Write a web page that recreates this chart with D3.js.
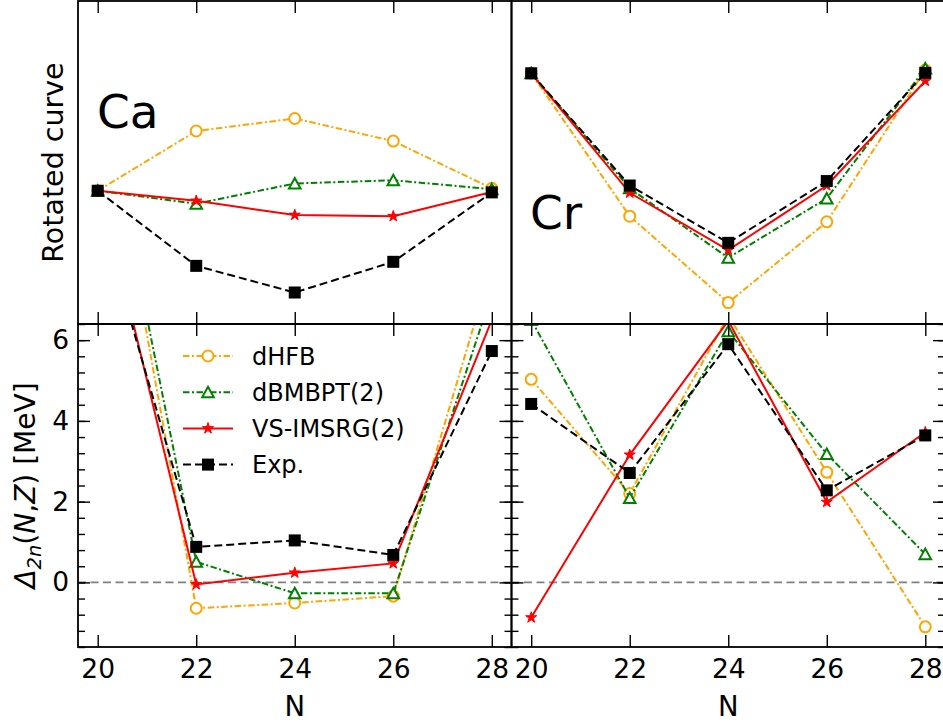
<!DOCTYPE html>
<html>
<head>
<meta charset="utf-8">
<script src="https://cdn.jsdelivr.net/npm/d3@7"></script>
<style>
    html, body { margin: 0; padding: 0; background: #fff; }
    svg { display: block; font-family: "DejaVu Sans", sans-serif; }
</style>
</head>
<body>
<div id="chart"></div>
<script>
// ===========================================
// DATA
// ===========================================
const neutrons = [20, 22, 24, 26, 28];
const xTicks = [20, 22, 24, 26, 28];
const yTicks = [0, 2, 4, 6];
const seriesNames = ["dHFB", "dBMBPT(2)", "VS-IMSRG(2)", "Exp."];

// rotated curves (no scale shown, arbitrary units)
const caRotHFB    = [3.30, 4.78, 5.09, 4.53, 3.36];
const caRotBMBPT  = [3.30, 2.98, 3.48, 3.56, 3.34];
const caRotIMSRG  = [3.30, 3.05, 2.70, 2.67, 3.27];
const caRotExp    = [3.30, 1.44, 0.78, 1.54, 3.26];

const crRotHFB    = [6.21, 2.67, 0.53, 2.53, 6.29];
const crRotBMBPT  = [6.21, 3.36, 1.64, 3.11, 6.33];
const crRotIMSRG  = [6.21, 3.25, 1.83, 3.43, 6.02];
const crRotExp    = [6.21, 3.43, 2.01, 3.54, 6.22];

// Delta_2n in MeV
const caGapHFB    = [12.9, -0.64, -0.51, -0.34, 7.85];
const caGapBMBPT  = [12.6, 0.51, -0.27, -0.27, 7.15];
const caGapIMSRG  = [10.07, -0.05, 0.24, 0.47, 6.5];
const caGapExp    = [9.3, 0.88, 1.04, 0.68, 5.73];

const crGapHFB    = [5.03, 2.20, 6.6, 2.73, -1.10];
const crGapBMBPT  = [6.5, 2.09, 6.22, 3.18, 0.70];
const crGapIMSRG  = [-0.87, 3.16, 6.48, 1.99, 3.72];
const crGapExp    = [4.42, 2.71, 5.90, 2.28, 3.64];

// ===========================================
// STYLES
// ===========================================
const STYLES = [
    { color: "orange", dash: "6.5,2.5,2,2.5", marker: "circle" },
    { color: "green",  dash: "6.5,2.5,2,2.5", marker: "triangle" },
    { color: "red",    dash: null,            marker: "star" },
    { color: "black",  dash: "8,4",           marker: "square" }
];

const width = 943;
const height = 724;
const colX = [[78, 511.5], [511.5, 945]];
const rowY = [[1, 324], [324, 647]];
const xDomain = [19.6, 28.4];

const svg = d3.select("#chart")
    .append("svg")
    .attr("width", width)
    .attr("height", height);

const defs = svg.append("defs");

function drawMarker(g, kind, color) {
    if (kind === "circle") {
        g.append("circle").attr("r", 5.5)
            .attr("fill", "#fff").attr("stroke", color).attr("stroke-width", 2);
    } else if (kind === "triangle") {
        g.append("path").attr("d", "M0,-5.5L5.8,5L-5.8,5Z")
            .attr("fill", "#fff").attr("stroke", color).attr("stroke-width", 2)
            .attr("stroke-linejoin", "miter");
    } else if (kind === "star") {
        g.append("path").attr("d", d3.symbol(d3.symbolStar, 38)())
            .attr("fill", color).attr("stroke", color).attr("stroke-width", 1);
    } else {
        g.append("rect").attr("x", -6).attr("y", -6)
            .attr("width", 12).attr("height", 12).attr("fill", color);
    }
}

function styleAxis(g) {
    g.select(".domain").remove();
    g.attr("font-size", 26.5).attr("font-family", "DejaVu Sans");
    g.selectAll("line").attr("stroke", "#000").attr("stroke-width", 1.4);
    g.selectAll("text").attr("fill", "#000");
}

// ===========================================
// PANEL
// ===========================================
function drawPanel(p) {
    const [x0, x1] = colX[p.col];
    const [y0, y1] = rowY[p.row];

    const x = d3.scaleLinear().domain(xDomain).range([x0, x1]);
    const y = d3.scaleLinear().domain(p.yDomain).range([y1, y0]);

    const clipId = "clip-" + p.row + "-" + p.col;
    defs.append("clipPath").attr("id", clipId)
        .append("rect")
        .attr("x", x0).attr("y", y0)
        .attr("width", x1 - x0).attr("height", y1 - y0);

    const plot = svg.append("g").attr("clip-path", `url(#${clipId})`);

    if (p.zeroLine) {
        plot.append("line")
            .attr("x1", x0).attr("x2", x1)
            .attr("y1", y(0)).attr("y2", y(0))
            .attr("stroke", "grey").attr("stroke-width", 1.6)
            .attr("stroke-dasharray", "8,4.5");
    }

    const line = d3.line().x(d => x(d[0])).y(d => y(d[1]));

    p.series.forEach((vals, k) => {
        const st = STYLES[k];
        const pts = neutrons.map((n, i) => [n, vals[i]]);
        plot.append("path")
            .attr("d", line(pts))
            .attr("fill", "none")
            .attr("stroke", st.color)
            .attr("stroke-width", 2)
            .attr("stroke-dasharray", st.dash);
        pts.forEach(d => {
            const m = plot.append("g")
                .attr("transform", `translate(${x(d[0])},${y(d[1])})`);
            drawMarker(m, st.marker, st.color);
        });
    });

    // x ticks, top and bottom, pointing inward
    svg.append("g")
        .attr("transform", `translate(0,${y0})`)
        .call(d3.axisTop(x).tickValues(xTicks).tickSize(-12).tickSizeOuter(0).tickFormat(""))
        .call(styleAxis);

    svg.append("g")
        .attr("transform", `translate(0,${y1})`)
        .call(d3.axisBottom(x).tickValues(xTicks).tickSize(-12).tickSizeOuter(0)
            .tickPadding(12.5)
            .tickFormat(p.row === 1 ? d3.format("d") : ""))
        .call(styleAxis);

    if (p.row === 1) {
        const minor = d3.range(-1.6, 6.5, 0.4);
        const showLabels = p.col === 0;

        svg.append("g")
            .attr("transform", `translate(${x0},0)`)
            .call(d3.axisLeft(y).tickValues(yTicks).tickSize(-12).tickSizeOuter(0)
                .tickPadding(9)
                .tickFormat(showLabels ? d3.format("d") : ""))
            .call(styleAxis);
        svg.append("g")
            .attr("transform", `translate(${x0},0)`)
            .call(d3.axisLeft(y).tickValues(minor).tickSize(-7).tickSizeOuter(0).tickFormat(""))
            .call(styleAxis);
        svg.append("g")
            .attr("transform", `translate(${x1},0)`)
            .call(d3.axisRight(y).tickValues(yTicks).tickSize(-12).tickSizeOuter(0).tickFormat(""))
            .call(styleAxis);
        svg.append("g")
            .attr("transform", `translate(${x1},0)`)
            .call(d3.axisRight(y).tickValues(minor).tickSize(-7).tickSizeOuter(0).tickFormat(""))
            .call(styleAxis);

        svg.append("text")
            .attr("x", (x0 + x1) / 2)
            .attr("y", 716)
            .attr("text-anchor", "middle")
            .attr("font-size", 27.5)
            .text("N");
    }

    // frame
    svg.append("rect")
        .attr("x", x0).attr("y", y0)
        .attr("width", x1 - x0).attr("height", y1 - y0)
        .attr("fill", "none")
        .attr("stroke", "#000")
        .attr("stroke-width", 1.8);

    if (p.label) {
        svg.append("text")
            .attr("x", p.labelPos[0])
            .attr("y", p.labelPos[1])
            .attr("font-size", 47)
            .text(p.label);
    }

    return { x, y };
}

const panels = [
    { row: 0, col: 0, yDomain: [0, 8], label: "Ca", labelPos: [97, 128],
      series: [caRotHFB, caRotBMBPT, caRotIMSRG, caRotExp] },
    { row: 0, col: 1, yDomain: [0, 8], label: "Cr", labelPos: [530, 229],
      series: [crRotHFB, crRotBMBPT, crRotIMSRG, crRotExp] },
    { row: 1, col: 0, yDomain: [-1.6, 6.4], zeroLine: true,
      series: [caGapHFB, caGapBMBPT, caGapIMSRG, caGapExp] },
    { row: 1, col: 1, yDomain: [-1.6, 6.4], zeroLine: true,
      series: [crGapHFB, crGapBMBPT, crGapIMSRG, crGapExp] }
];

panels.forEach(drawPanel);

// ===========================================
// Y LABELS
// ===========================================
svg.append("text")
    .attr("transform", `translate(63,${(rowY[0][0] + rowY[0][1]) / 2}) rotate(-90)`)
    .attr("text-anchor", "middle")
    .attr("font-size", 28.5)
    .text("Rotated curve");

const gapLabel = svg.append("text")
    .attr("transform", `translate(35,${(rowY[1][0] + rowY[1][1]) / 2}) rotate(-90)`)
    .attr("text-anchor", "middle")
    .attr("font-size", 28);
gapLabel.append("tspan").attr("font-style", "italic").text("Δ");
gapLabel.append("tspan").attr("font-style", "italic").attr("font-size", 19.5)
    .attr("dy", 6).text("2n");
gapLabel.append("tspan").attr("dy", -6).text("(");
gapLabel.append("tspan").attr("font-style", "italic").text("N");
gapLabel.append("tspan").text(",");
gapLabel.append("tspan").attr("font-style", "italic").text("Z");
gapLabel.append("tspan").text(") [MeV]");

// ===========================================
// LEGEND
// ===========================================
const legend = svg.append("g").attr("transform", "translate(183,356)");
seriesNames.forEach((name, k) => {
    const st = STYLES[k];
    const row = legend.append("g").attr("transform", `translate(0,${k * 36.2})`);
    row.append("line")
        .attr("x1", 0).attr("x2", 50)
        .attr("stroke", st.color).attr("stroke-width", 2)
        .attr("stroke-dasharray", st.dash);
    const m = row.append("g").attr("transform", "translate(25,0)");
    drawMarker(m, st.marker, st.color);
    row.append("text")
        .attr("x", 69)
        .attr("dy", "0.36em")
        .attr("font-size", 24)
        .text(name);
});
</script>
</body>
</html>
